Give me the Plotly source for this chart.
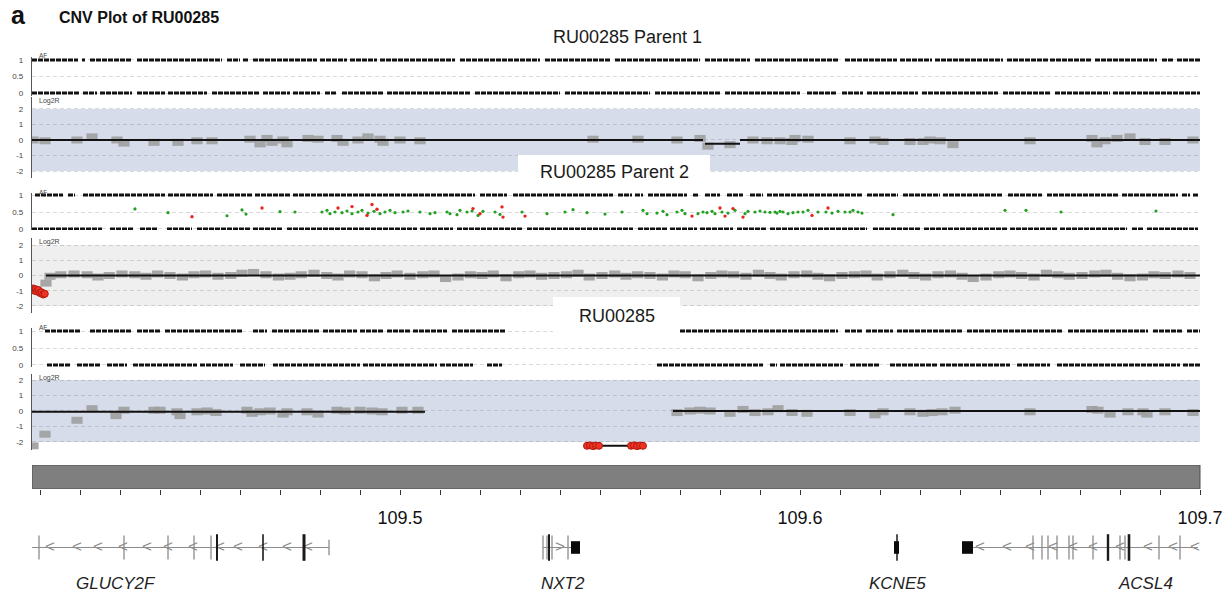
import plotly.graph_objects as go

W, H = 1232, 599
FONT = "Liberation Sans, Arial, Helvetica, sans-serif"

# ------------------------------------------------------------------ data
X_MIN, X_MAX = 109.408, 109.70025
TICK_VALUES = [109.41, 109.42, 109.43, 109.44, 109.45, 109.46, 109.47, 109.48, 109.49, 109.50,
               109.51, 109.52, 109.53, 109.54, 109.55, 109.56, 109.57, 109.58, 109.59, 109.60,
               109.61, 109.62, 109.63, 109.64, 109.65, 109.66, 109.67, 109.68, 109.69, 109.70]
TICK_LABELED = {109.5: "109.5", 109.6: "109.6", 109.7: "109.7"}

PANEL_TITLES = ["RU00285 Parent 1", "RU00285 Parent 2", "RU00285"]

# AF rows (homozygous calls at AF = 1 and AF = 0): covered spans and gaps (Mb)
P1_AF1_SPAN = [(109.408, 109.700)]
P1_AF1_GAPS = [(109.4195, 109.4205), (109.42125, 109.4225), (109.433, 109.43425), (109.4555, 109.45675),
               (109.46, 109.46075), (109.462, 109.46325), (109.47925, 109.48), (109.48675, 109.4875),
               (109.49425, 109.495), (109.51375, 109.515), (109.535, 109.53625), (109.5525, 109.55375),
               (109.575, 109.57625), (109.5875, 109.58875), (109.6095, 109.61125), (109.62425, 109.625),
               (109.633, 109.63375), (109.65075, 109.65175), (109.662, 109.6625), (109.673, 109.67375),
               (109.68925, 109.6905), (109.69325, 109.69425)]
P1_AF0_SPAN = [(109.408, 109.700)]
P1_AF0_GAPS = [(109.42, 109.42075), (109.42425, 109.425), (109.433, 109.43425), (109.44125, 109.442),
               (109.45175, 109.453), (109.465, 109.46575), (109.4725, 109.47325), (109.48, 109.48125),
               (109.48425, 109.4855), (109.49575, 109.49675), (109.5175, 109.51875), (109.54, 109.54125),
               (109.5625, 109.56375), (109.58, 109.58125), (109.6, 109.60175), (109.60925, 109.6105),
               (109.61575, 109.61675), (109.6295, 109.6305), (109.6495, 109.65075), (109.6625, 109.66375),
               (109.6775, 109.67825)]
P2_AF1_SPAN = [(109.40875, 109.6995)]
P2_AF1_GAPS = [(109.41575, 109.417), (109.41875, 109.42075), (109.44125, 109.442), (109.45325, 109.45425),
               (109.463, 109.46375), (109.4725, 109.47325), (109.51875, 109.52), (109.52675, 109.52825),
               (109.55325, 109.5545), (109.558, 109.55875), (109.56075, 109.562), (109.57175, 109.57325),
               (109.5745, 109.57625), (109.58, 109.58175), (109.58575, 109.5875), (109.59075, 109.59175),
               (109.61575, 109.61675), (109.6245, 109.62575), (109.635, 109.63575), (109.65075, 109.652),
               (109.6605, 109.66175), (109.6795, 109.6805), (109.6945, 109.6955), (109.6975, 109.69825)]
P2_AF0_SPAN = [(109.408, 109.6995)]
P2_AF0_GAPS = [(109.4255, 109.4275), (109.43325, 109.435), (109.43925, 109.44175), (109.448, 109.44925),
               (109.4625, 109.46325), (109.47075, 109.47175), (109.50425, 109.505), (109.51325, 109.51425),
               (109.53075, 109.53175), (109.55825, 109.5595), (109.56675, 109.5675), (109.57425, 109.575),
               (109.58325, 109.58425), (109.59175, 109.5925), (109.61675, 109.61825), (109.63, 109.631),
               (109.65175, 109.6525), (109.66425, 109.665), (109.68175, 109.683), (109.68575, 109.68675)]
P3_AF1_SPAN = [(109.41125, 109.52625), (109.5700, 109.700)]
P3_AF1_GAPS = [(109.42, 109.4225), (109.433, 109.43425), (109.44, 109.44125), (109.4605, 109.46325),
               (109.46675, 109.468), (109.48, 109.48075), (109.48925, 109.49), (109.49575, 109.49675),
               (109.5025, 109.50325), (109.51175, 109.513), (109.6095, 109.61125), (109.61575, 109.6165),
               (109.62325, 109.62425), (109.64075, 109.64175), (109.66575, 109.667), (109.687, 109.68825),
               (109.69575, 109.69675)]
P3_AF0_SPAN = [(109.41175, 109.5255), (109.56425, 109.700)]
P3_AF0_GAPS = [(109.4175, 109.41925), (109.425, 109.42675), (109.43175, 109.43325), (109.44925, 109.45),
               (109.45825, 109.46), (109.46625, 109.46825), (109.49, 109.49075), (109.50925, 109.51),
               (109.51825, 109.52175), (109.59075, 109.5925), (109.59425, 109.595), (109.61075, 109.6125),
               (109.62, 109.6225), (109.63425, 109.635), (109.6525, 109.65425), (109.6625, 109.66425),
               (109.695, 109.69575)]

# Parent 2 heterozygous SNVs (AF ~ 0.5)
HET_GREEN_X = [109.43375, 109.442, 109.45675, 109.4605, 109.4615, 109.47, 109.47375, 109.4805, 109.48175,
               109.4825, 109.48375, 109.4855, 109.48675, 109.488, 109.4895, 109.4905, 109.492, 109.4935,
               109.495, 109.49625, 109.4975, 109.49875, 109.50075, 109.502, 109.505, 109.5075, 109.50875,
               109.51175, 109.5125, 109.51425, 109.515, 109.51675, 109.518, 109.5195, 109.52075, 109.52375,
               109.525, 109.5305, 109.53675, 109.54125, 109.54325, 109.54675, 109.55125, 109.5555, 109.56075,
               109.56175, 109.56425, 109.56575, 109.56675, 109.56925, 109.5705, 109.57125, 109.5745,
               109.57575, 109.57675, 109.578, 109.57875, 109.5805, 109.582, 109.58375, 109.58625, 109.587,
               109.58875, 109.59, 109.59125, 109.5925, 109.59375, 109.59425, 109.595, 109.59575, 109.597,
               109.59825, 109.5995, 109.60075, 109.602, 109.6045, 109.6065, 109.608, 109.6095, 109.61125,
               109.6125, 109.61325, 109.6145, 109.6155, 109.62325, 109.65125, 109.6565, 109.66525, 109.689]
HET_GREEN_Y = [0.59, 0.48, 0.39, 0.56, 0.44, 0.51, 0.50, 0.50, 0.55,
               0.45, 0.50, 0.48, 0.53, 0.45, 0.50, 0.55, 0.47, 0.52,
               0.45, 0.50, 0.55, 0.48, 0.50, 0.53, 0.50, 0.45, 0.48,
               0.50, 0.45, 0.42, 0.55, 0.50, 0.53, 0.40, 0.52, 0.50,
               0.43, 0.50, 0.45, 0.50, 0.57, 0.48, 0.44, 0.50, 0.55,
               0.45, 0.47, 0.52, 0.42, 0.50, 0.55, 0.45, 0.45,
               0.50, 0.48, 0.52, 0.45, 0.50, 0.47, 0.55, 0.45, 0.52,
               0.50, 0.53, 0.50, 0.49, 0.50, 0.47, 0.52, 0.50, 0.45,
               0.48, 0.50, 0.50, 0.55, 0.50, 0.50, 0.47, 0.52, 0.50,
               0.50, 0.55, 0.50, 0.47, 0.42, 0.55, 0.55, 0.50, 0.53]
HET_RED_X = [109.448, 109.4655, 109.4845, 109.488, 109.49175, 109.493, 109.49425, 109.51825, 109.52,
             109.5255, 109.52575, 109.53125, 109.573, 109.58, 109.58125, 109.58325, 109.58575, 109.603, 109.607]
HET_RED_Y = [0.36, 0.62, 0.62, 0.66, 0.40, 0.72, 0.58, 0.60, 0.45,
             0.65, 0.35, 0.38, 0.38, 0.62, 0.38, 0.60, 0.35, 0.40, 0.62]

# Log2R bins
P1_BIN_X = [109.40825, 109.41125, 109.41925, 109.423, 109.42925, 109.431, 109.4385, 109.4445, 109.44925,
            109.453, 109.4625, 109.465, 109.46675, 109.468, 109.47075, 109.47175, 109.477, 109.4795,
            109.48425, 109.48575, 109.4895, 109.492, 109.495, 109.49575, 109.5, 109.505, 109.54825,
            109.5595, 109.56925, 109.575, 109.577, 109.5825, 109.58825, 109.59175, 109.595, 109.598,
            109.59875, 109.602, 109.6125, 109.61875, 109.62075, 109.6275, 109.63075, 109.6325, 109.635,
            109.63825, 109.6575, 109.673, 109.67425, 109.67625, 109.67925, 109.6825, 109.68625, 109.69125,
            109.69825]
P1_BIN_Y = [0.0, -0.05, 0.0, 0.2, 0.0, -0.2, -0.15, -0.15, -0.05,
            -0.05, 0.05, -0.25, 0.1, -0.15, 0.0, -0.25, 0.1, 0.05,
            0.1, -0.15, 0.0, 0.2, 0.05, -0.15, 0.0, -0.05, 0.05,
            0.05, 0.0, 0.1, -0.4, -0.3, 0.0, -0.05, -0.05, -0.1,
            0.1, 0.05, -0.05, 0.0, -0.1, -0.1, -0.1, 0.0, -0.05,
            -0.3, -0.05, 0.1, -0.25, -0.05, 0.1, 0.2, -0.1, -0.1,
            0.0]
P2_BIN_X = [109.4125, 109.4152, 109.4185, 109.4218, 109.4245, 109.4273, 109.4305, 109.4337, 109.4365, 109.4394,
            109.4425, 109.4456, 109.4485, 109.4514, 109.4545, 109.4577, 109.4605, 109.4634, 109.4665, 109.4696,
            109.4725, 109.4753, 109.4785, 109.4817, 109.4845, 109.4874, 109.4905, 109.4936, 109.4965, 109.4993,
            109.5025, 109.5057, 109.5085, 109.5114, 109.5145, 109.5176, 109.5205, 109.5233, 109.5265, 109.5297,
            109.5325, 109.5354, 109.5385, 109.5416, 109.5445, 109.5473, 109.5505, 109.5537, 109.5565, 109.5594,
            109.5625, 109.5656, 109.5685, 109.5713, 109.5745, 109.5777, 109.5805, 109.5834, 109.5865, 109.5896,
            109.5925, 109.5953, 109.5985, 109.6017, 109.6045, 109.6074, 109.6105, 109.6136, 109.6165, 109.6193,
            109.6225, 109.6257, 109.6285, 109.6314, 109.6345, 109.6376, 109.6405, 109.6433, 109.6465, 109.6497,
            109.6525, 109.6554, 109.6585, 109.6616, 109.6645, 109.6673, 109.6705, 109.6737, 109.6765, 109.6794,
            109.6825, 109.6856, 109.6885, 109.6913, 109.6945, 109.6975]
P2_BIN_Y = [-0.05, 0.05, 0.1, 0.05, -0.1, 0.0, 0.1, 0.05, -0.05, 0.1,
            0.0, -0.1, 0.05, 0.1, -0.05, 0.0, 0.15, 0.2, 0.05, -0.1,
            -0.05, 0.05, 0.15, 0.0, -0.1, 0.1, 0.05, -0.15, 0.0, 0.1,
            -0.05, 0.05, 0.1, -0.2, -0.1, 0.05, 0.0, 0.1, -0.15, 0.05,
            0.1, -0.05, 0.0, 0.05, 0.15, -0.1, 0.0, 0.1, -0.05, 0.05,
            0.0, -0.1, 0.1, 0.05, -0.15, 0.0, 0.1, 0.05, -0.05, 0.15,
            0.0, -0.1, 0.05, 0.1, -0.05, -0.15, 0.0, 0.05, 0.1, -0.1,
            0.05, 0.15, 0.0, -0.1, 0.05, 0.1, -0.05, -0.2, -0.1, 0.05,
            0.1, 0.0, -0.1, 0.15, 0.05, -0.05, 0.0, 0.1, 0.15, -0.05,
            -0.15, -0.1, 0.05, 0.0, 0.1, 0.0]
P2_EXTRA_BIN_X = [109.4115]
P2_EXTRA_BIN_Y = [-0.5]
P3_BIN_X = [109.40825, 109.41125, 109.41925, 109.423, 109.429, 109.431, 109.4385, 109.44, 109.44425,
            109.445, 109.44925, 109.45175, 109.454, 109.46175, 109.463, 109.465, 109.4675, 109.47075,
            109.47175, 109.47675, 109.4795, 109.48425, 109.48625, 109.49, 109.493, 109.4955, 109.5005,
            109.5045, 109.56925, 109.5725, 109.575, 109.5775, 109.5825, 109.58575, 109.58875, 109.592,
            109.5945, 109.598, 109.60175, 109.6125, 109.61875, 109.62075, 109.6275, 109.63075, 109.633,
            109.6355, 109.63875, 109.6575, 109.673, 109.6745, 109.6775, 109.682, 109.68575, 109.68675,
            109.69125, 109.69825]
P3_BIN_Y = [-2.25, -1.5, -0.6, 0.15, -0.3, 0.05, 0.05, 0.05, -0.05,
            -0.3, -0.05, 0.0, -0.1, 0.05, -0.15, -0.05, 0.0, -0.2,
            -0.05, -0.05, -0.2, 0.05, 0.0, 0.05, 0.0, -0.05, 0.05,
            0.05, -0.1, 0.0, 0.05, 0.0, -0.15, 0.1, -0.1, -0.05,
            0.15, -0.1, -0.15, -0.1, -0.25, -0.05, -0.05, -0.15, -0.1,
            -0.05, 0.05, -0.05, 0.1, 0.05, -0.2, -0.05, -0.05, -0.2,
            -0.05, -0.1]

# called segments (start Mb, end Mb, log2R)
P1_SEGMENTS = [(109.408, 109.57575, 0.0), (109.57625, 109.585, -0.25), (109.585, 109.700, 0.0)]
P2_SEGMENTS = [(109.408, 109.4105, -0.95), (109.4115, 109.700, 0.0)]
P3_SEGMENTS = [(109.408, 109.50625, -0.05), (109.54675, 109.56075, -2.25), (109.56825, 109.700, 0.0)]

# bins called as deleted (red)
P2_DEL_X = [109.4083, 109.4086, 109.4089, 109.4092, 109.4096, 109.4100, 109.4104, 109.4108, 109.4112]
P2_DEL_Y = [-0.85, -1.0, -0.9, -1.05, -0.95, -1.15, -1.1, -1.25, -1.2]
P3_DEL_X = [109.54675, 109.5475, 109.54825, 109.549, 109.54975, 109.55775, 109.5585, 109.55925, 109.56, 109.56075]
P3_DEL_Y = [-2.25, -2.22, -2.27, -2.23, -2.25, -2.25, -2.22, -2.27, -2.23, -2.25]

# gene track
GENE_NAMES = ["GLUCY2F", "NXT2", "KCNE5", "ACSL4"]
GENE_START = [109.408, 109.53575, 109.6235, 109.64325]
GENE_END = [109.48225, 109.5445, 109.62475, 109.6995]
GENE_LABEL_X = [109.429, 109.54075, 109.62425, 109.68625]
EXON_THIN_X = [109.40975, 109.431, 109.442, 109.4485, 109.45275,
               109.53575, 109.53675, 109.538, 109.542,
               109.65825, 109.6605, 109.662, 109.66425, 109.66725, 109.66825, 109.67325, 109.68,
               109.68125, 109.68975, 109.695]
EXON_DARK_X = [109.45425, 109.46575, 109.476, 109.53725, 109.62425, 109.677, 109.68225]
EXON_DARK_W = [2.0, 1.6, 3.0, 2.0, 1.5, 2.4, 2.6]
GENE_END_TICK_X = [109.48225]
UTR_BOX_START = [109.54275, 109.6235, 109.6405]
UTR_BOX_END = [109.545, 109.62475, 109.64325]
CHEVRON_LEFT_X = [109.4125, 109.41925, 109.4245, 109.43075, 109.43675, 109.442, 109.44825, 109.455,
                  109.4595, 109.46575, 109.47175, 109.477,
                  109.645, 109.65175, 109.6575, 109.66325, 109.66825, 109.67325, 109.68, 109.687,
                  109.69325, 109.69875]
CHEVRON_RIGHT_X = [109.54]

# ------------------------------------------------------------------ helpers
def fy(p):
    return 1 - p / H


def fx(p):
    return p / W


def runs(spans, gaps):
    out = []
    for s, e in spans:
        cur = s
        for g0, g1 in sorted(gaps):
            if g1 <= s or g0 >= e:
                continue
            if g0 > cur:
                out.append((cur, g0))
            cur = max(cur, g1)
        if cur < e:
            out.append((cur, e))
    return out


def row_xy(spans, gaps, level):
    xs, ys = [], []
    for a, b in runs(spans, gaps):
        xs += [a, b, None]
        ys += [level, level, None]
    return xs, ys


def seg_xy(segs):
    xs, ys = [], []
    for a, b, v in segs:
        xs += [a, b, None]
        ys += [v, v, None]
    return xs, ys


PANELS = [
    dict(af=(57, 96), afr=(-0.09, 1.09), lr=(97, 178), lrr=(-2.45, 2.77), band="#d6dcea",
         rows=[(P1_AF1_SPAN, P1_AF1_GAPS, 1), (P1_AF0_SPAN, P1_AF0_GAPS, 0)],
         bins=[(P1_BIN_X, P1_BIN_Y)], segs=P1_SEGMENTS, dele=None),
    dict(af=(193, 230), afr=(-0.03, 1.06), lr=(238, 313), lrr=(-2.46, 2.46), band="#efefef",
         rows=[(P2_AF1_SPAN, P2_AF1_GAPS, 1), (P2_AF0_SPAN, P2_AF0_GAPS, 0)],
         bins=[(P2_BIN_X, P2_BIN_Y), (P2_EXTRA_BIN_X, P2_EXTRA_BIN_Y)], segs=P2_SEGMENTS,
         dele=(P2_DEL_X, P2_DEL_Y)),
    dict(af=(328, 367), afr=(-0.06, 1.09), lr=(374, 450), lrr=(-2.52, 2.39), band="#d6dcea",
         rows=[(P3_AF1_SPAN, P3_AF1_GAPS, 1), (P3_AF0_SPAN, P3_AF0_GAPS, 0)],
         bins=[(P3_BIN_X, P3_BIN_Y)], segs=P3_SEGMENTS, dele=(P3_DEL_X, P3_DEL_Y)),
]

fig = go.Figure()
shapes = []
annotations = []
layout_axes = {}

GRID = "rgba(130,130,130,0.30)"
AXLINE = "#555555"
PILL = "rgba(160,160,160,0.92)"

for i, p in enumerate(PANELS):
    ya = 2 * i + 1
    yl = 2 * i + 2
    ya_ref = "y" if ya == 1 else f"y{ya}"
    yl_ref = f"y{yl}"
    common = dict(anchor="x", showline=True, linecolor=AXLINE, linewidth=1.2, ticks="outside",
                  ticklen=6, tickcolor="rgba(0,0,0,0)", tickfont=dict(size=8, color="#444", family=FONT),
                  showgrid=True, gridcolor=GRID, griddash="4px,3px", gridwidth=1, zeroline=False,
                  fixedrange=True)
    layout_axes["yaxis" if ya == 1 else f"yaxis{ya}"] = dict(
        domain=[fy(p["af"][1]), fy(p["af"][0])], range=list(p["afr"]),
        tickvals=[0, 0.5, 1], ticktext=["0", "0.5", "1"], **common)
    layout_axes[f"yaxis{yl}"] = dict(
        domain=[fy(p["lr"][1]), fy(p["lr"][0])], range=list(p["lrr"]),
        tickvals=[-2, -1, 0, 1, 2], ticktext=["-2", "-1", "0", "1", "2"], **common)

    # band
    shapes.append(dict(type="rect", xref="x", yref=yl_ref, x0=X_MIN, x1=109.7, y0=-2, y1=2,
                       fillcolor=p["band"], line=dict(width=0), layer="below"))

    # AF rows
    for spans, gaps, lvl in p["rows"]:
        xs, ys = row_xy(spans, gaps, lvl)
        fig.add_trace(go.Scatter(x=xs, y=ys, xaxis="x", yaxis=ya_ref, mode="lines",
                                 line=dict(color="#111111", width=3, dash="5px,1px"),
                                 hoverinfo="skip", showlegend=False))
    if i == 1:
        fig.add_trace(go.Scatter(x=HET_GREEN_X, y=HET_GREEN_Y, xaxis="x", yaxis=ya_ref, mode="markers",
                                 marker=dict(color="#22a022", size=3.2), showlegend=False))
        fig.add_trace(go.Scatter(x=HET_RED_X, y=HET_RED_Y, xaxis="x", yaxis=ya_ref, mode="markers",
                                 marker=dict(color="#e5281e", size=3.4), showlegend=False))

    # bins
    for bx, by in p["bins"]:
        fig.add_trace(go.Scatter(x=bx, y=by, xaxis="x", yaxis=yl_ref, mode="markers",
                                 marker=dict(symbol="line-ew", size=8,
                                             line=dict(color=PILL, width=7)),
                                 showlegend=False))
    # segments
    sx, sy = seg_xy(p["segs"])
    fig.add_trace(go.Scatter(x=sx, y=sy, xaxis="x", yaxis=yl_ref, mode="lines",
                             line=dict(color="#111111", width=2), showlegend=False))
    # deleted bins
    if p["dele"] is not None:
        dx, dy = p["dele"]
        fig.add_trace(go.Scatter(x=dx, y=dy, xaxis="x", yaxis=yl_ref, mode="markers",
                                 marker=dict(color="#ee3322", size=7, line=dict(color="#b01810", width=1)),
                                 showlegend=False))
    # small axis labels
    annotations.append(dict(text="AF", x=fx(37), y=fy(p["af"][0] - 1), xref="paper", yref="paper",
                            xanchor="left", yanchor="middle", showarrow=False,
                            font=dict(size=6.5, color="#444", family=FONT)))
    annotations.append(dict(text="Log2R", x=fx(37), y=fy(p["lr"][0] + 4), xref="paper", yref="paper",
                            xanchor="left", yanchor="middle", showarrow=False,
                            font=dict(size=7, color="#444", family=FONT)))

# bar axis and gene axis
layout_axes["yaxis7"] = dict(domain=[fy(489), fy(465)], range=[0, 1], visible=False, anchor="x",
                             fixedrange=True)
layout_axes["yaxis8"] = dict(domain=[fy(565), fy(530)], range=[-1, 1], visible=False, anchor="x",
                             fixedrange=True)
shapes.append(dict(type="rect", xref="x", yref="y7", x0=X_MIN, x1=109.7, y0=0, y1=1,
                   fillcolor="#7f7f7f", line=dict(color="#4f4f4f", width=1), layer="below"))

# gene backbones
gx, gy = [], []
for s, e in zip(GENE_START, GENE_END):
    gx += [s, e, None]
    gy += [0, 0, None]
fig.add_trace(go.Scatter(x=gx, y=gy, xaxis="x", yaxis="y8", mode="lines",
                         line=dict(color="#8c8c8c", width=1), showlegend=False))
fig.add_trace(go.Scatter(x=CHEVRON_LEFT_X, y=[0] * len(CHEVRON_LEFT_X), xaxis="x", yaxis="y8",
                         mode="text", text=["<"] * len(CHEVRON_LEFT_X),
                         textfont=dict(size=17, color="#8c8c8c", family=FONT), showlegend=False))
fig.add_trace(go.Scatter(x=CHEVRON_RIGHT_X, y=[0] * len(CHEVRON_RIGHT_X), xaxis="x", yaxis="y8",
                         mode="text", text=[">"] * len(CHEVRON_RIGHT_X),
                         textfont=dict(size=17, color="#8c8c8c", family=FONT), showlegend=False))
fig.add_trace(go.Scatter(x=EXON_THIN_X, y=[0] * len(EXON_THIN_X), xaxis="x", yaxis="y8", mode="markers",
                         marker=dict(symbol="line-ns", size=17, line=dict(color="#8c8c8c", width=1.3)),
                         showlegend=False))
fig.add_trace(go.Scatter(x=GENE_END_TICK_X, y=[0] * len(GENE_END_TICK_X), xaxis="x", yaxis="y8",
                         mode="markers",
                         marker=dict(symbol="line-ns", size=11, line=dict(color="#8c8c8c", width=1.3)),
                         showlegend=False))
fig.add_trace(go.Scatter(x=EXON_DARK_X, y=[0] * len(EXON_DARK_X), xaxis="x", yaxis="y8", mode="markers",
                         marker=dict(symbol="line-ns", size=19, line=dict(color="#1a1a1a", width=EXON_DARK_W)),
                         showlegend=False))
for s, e in zip(UTR_BOX_START, UTR_BOX_END):
    shapes.append(dict(type="rect", xref="x", yref="y8", x0=s, x1=e, y0=-0.36, y1=0.36,
                       fillcolor="#0a0a0a", line=dict(width=0), layer="above"))
for name, lx in zip(GENE_NAMES, GENE_LABEL_X):
    annotations.append(dict(text=f"<i>{name}</i>", x=lx, y=fy(583), xref="x", yref="paper",
                            xanchor="center", yanchor="middle", showarrow=False,
                            font=dict(size=17, color="#222", family=FONT)))

# panel title boxes
shapes.append(dict(type="rect", xref="paper", yref="paper", x0=fx(518), x1=fx(710), y0=fy(186), y1=fy(155),
                   fillcolor="white", line=dict(width=0), layer="above"))
shapes.append(dict(type="rect", xref="paper", yref="paper", x0=fx(553), x1=fx(680), y0=fy(334), y1=fy(297),
                   fillcolor="white", line=dict(width=0), layer="above"))
for title, (cx, cy) in zip(PANEL_TITLES, [(627, 37), (614, 172), (617, 316)]):
    annotations.append(dict(text=title, x=fx(cx), y=fy(cy), xref="paper", yref="paper",
                            xanchor="center", yanchor="middle", showarrow=False,
                            font=dict(size=18, color="#1a1a1a", family=FONT)))

annotations.append(dict(text="<b>a</b>", x=fx(9), y=fy(15), xref="paper", yref="paper", xanchor="left",
                        yanchor="middle", showarrow=False, font=dict(size=25, color="#111", family=FONT)))
annotations.append(dict(text="<b>CNV Plot of RU00285</b>", x=fx(57), y=fy(18), xref="paper", yref="paper",
                        xanchor="left", yanchor="middle", showarrow=False,
                        font=dict(size=16, color="#111", family=FONT)))

fig.update_layout(
    width=W, height=H, margin=dict(l=0, r=0, t=0, b=0, autoexpand=False),
    paper_bgcolor="white", plot_bgcolor="rgba(0,0,0,0)", showlegend=False,
    font=dict(family=FONT),
    xaxis=dict(domain=[fx(32), fx(1201)], range=[X_MIN, X_MAX], anchor="y7", side="bottom",
               showgrid=False, zeroline=False, showline=False, ticks="outside", ticklen=5,
               tickwidth=1, tickcolor="#333", tickvals=TICK_VALUES,
               ticktext=[TICK_LABELED.get(round(v, 2), "") for v in TICK_VALUES],
               tickfont=dict(size=18, color="#111", family=FONT), ticklabelstandoff=7,
               fixedrange=True),
    shapes=shapes, annotations=annotations,
    **layout_axes,
)

fig.write_html("out.html", config={"displayModeBar": False},
               post_script="document.body.style.margin='0px';")
